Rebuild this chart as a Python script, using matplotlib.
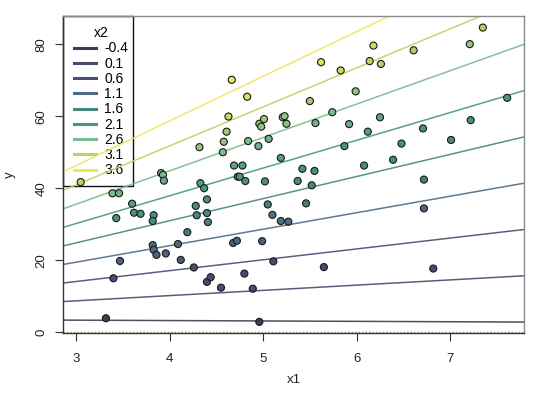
import matplotlib
matplotlib.use("Agg")
import matplotlib.pyplot as plt
import numpy as np
from matplotlib.colors import LinearSegmentedColormap
from matplotlib.lines import Line2D
from matplotlib.patches import Rectangle

plt.rcParams['font.family'] = ['Liberation Sans', 'DejaVu Sans']

# ---- data ----
x1 = [3.05, 3.32, 3.40, 3.47, 3.43, 3.39, 3.46, 3.60, 3.62, 3.69,
      3.83, 3.82, 3.82, 3.83, 3.86, 3.96, 3.91, 3.93, 3.94, 4.09,
      4.12, 4.19, 4.26, 4.28, 4.29, 4.33, 4.37, 4.40, 4.40, 4.41,
      4.40, 4.44, 4.55, 4.32, 4.57, 4.58, 4.61, 4.63, 4.665, 4.83,
      4.69, 4.78, 4.73, 4.75, 4.81, 4.68, 4.72, 4.80, 4.89, 4.96,
      4.84, 4.95, 5.06, 4.96, 5.01, 4.98, 5.21, 5.23, 5.25, 5.02,
      5.05, 5.10, 5.19, 5.27, 4.99, 5.11, 5.19, 5.37, 5.42, 5.55,
      5.52, 5.46, 5.50, 5.56, 5.62, 5.83, 5.74, 5.99, 5.92, 5.87,
      6.08, 6.12, 6.18, 6.14, 6.26, 6.25, 6.39, 6.48, 6.61, 6.71,
      6.72, 6.72, 7.01, 7.22, 7.21, 7.35, 7.61, 5.65, 6.82]
y = [41.7, 3.9, 15.0, 19.8, 31.7, 38.6, 38.6, 35.7, 33.2, 32.9,
     32.5, 30.9, 24.2, 22.9, 21.5, 21.9, 44.2, 43.7, 42.1, 24.5,
     20.1, 27.8, 18.0, 35.1, 32.5, 41.4, 40.0, 36.9, 33.1, 30.6,
     14.0, 15.3, 12.4, 51.4, 50.0, 52.9, 55.7, 59.9, 70.1, 65.4,
     46.3, 46.3, 43.2, 43.2, 42.0, 24.8, 25.4, 16.3, 12.1, 2.9,
     53.1, 51.7, 53.7, 57.9, 59.2, 57.1, 59.7, 60.0, 57.9, 41.9,
     35.5, 32.6, 30.9, 30.7, 25.3, 19.7, 48.4, 42.0, 45.4, 44.8,
     40.8, 35.8, 64.2, 58.1, 75.0, 72.7, 61.1, 66.9, 57.8, 51.7,
     46.3, 55.7, 79.6, 75.3, 74.5, 59.7, 47.9, 52.4, 78.3, 56.6,
     42.4, 34.4, 53.4, 58.9, 80.0, 84.6, 65.1, 18.1, 17.7]
x2 = [3.1, -0.4, 0.6, 1.0, 2.0, 2.6, 2.5, 2.2, 2.0, 1.9,
      1.8, 1.7, 1.2, 1.1, 1.0, 1.0, 2.6, 2.6, 2.4, 1.1,
      0.8, 1.3, 0.6, 1.8, 1.6, 2.2, 2.1, 1.8, 1.6, 1.4,
      0.3, 0.4, 0.2, 2.8, 2.6, 2.8, 2.9, 3.2, 3.8, 3.4,
      2.3, 2.2, 2.1, 2.1, 2.0, 1.0, 1.0, 0.4, 0.1, -0.4,
      2.6, 2.5, 2.5, 2.8, 2.9, 2.8, 2.8, 2.8, 2.7, 1.9,
      1.5, 1.3, 1.2, 1.1, 0.9, 0.6, 2.2, 1.7, 1.9, 1.8,
      1.6, 1.4, 2.9, 2.5, 3.4, 3.2, 2.6, 2.8, 2.4, 2.1,
      1.7, 2.2, 3.3, 3.1, 3.0, 2.3, 1.7, 1.9, 3.0, 2.0,
      1.4, 1.0, 1.8, 1.9, 2.8, 3.0, 2.1, 0.4, 0.3]

# fitted model y ~ x1 * x2 (coefficients)
b_intercept = 4.24
b_x1 = 1.14
b_x2 = 1.35
b_x1x2 = 3.126

legend_values = [-0.4, 0.1, 0.6, 1.1, 1.6, 2.1, 2.6, 3.1, 3.6]
legend_labels = ["-0.4", "0.1", "0.6", "1.1", "1.6", "2.1", "2.6", "3.1", "3.6"]
legend_colors = ["#3d3c52", "#4a496e", "#464f70", "#4f6a82", "#468782",
                 "#489682", "#78bb8c", "#bdd262", "#efe55a"]

x_ticks = [3, 4, 5, 6, 7]
y_ticks = [0, 20, 40, 60, 80]

# ---- figure ----
W, H = 540, 398
fig = plt.figure(figsize=(W / 100, H / 100), dpi=100)
ax_w, ax_h = 524 - 63.3, 333.3 - 15.7
ax = fig.add_axes([63.3 / W, 64.7 / H, ax_w / W, ax_h / H])
ax.set_xlim(2.864, 7.79)
ax.set_ylim(-0.28, 87.9)

cmap = LinearSegmentedColormap.from_list(
    "pal", list(zip([(v - legend_values[0]) / (legend_values[-1] - legend_values[0])
                     for v in legend_values], legend_colors)))

ax.axhline(0, color="#9a9a9a", ls=(0, (1, 1.5)), lw=1.0, zorder=1)

xs = np.array(ax.get_xlim())
for v, c in zip(legend_values, legend_colors):
    yy = b_intercept + b_x1 * xs + v * (b_x2 + b_x1x2 * xs)
    ax.plot(xs, yy, color=c, lw=1.1, alpha=0.9, zorder=2, solid_capstyle="butt")

norm = plt.Normalize(legend_values[0], legend_values[-1])
ax.scatter(x1, y, c=x2, cmap=cmap, norm=norm, s=26, edgecolors="#1a1a1a",
           linewidths=0.8, zorder=3)

ax.set_xticks(x_ticks)
ax.set_yticks(y_ticks)
ax.set_yticklabels([str(t) for t in y_ticks], rotation=90, va="center")
ax.tick_params(axis="both", length=5.8, width=0.8, color="#333333",
               labelsize=9.5, labelcolor="#222222")
ax.tick_params(axis="x", pad=8.5)
ax.tick_params(axis="y", pad=5.5)
for s in ["top", "right"]:
    ax.spines[s].set_color("#8a8a8a")
for s in ["left", "bottom"]:
    ax.spines[s].set_color("#333333")
for s in ax.spines.values():
    s.set_linewidth(1.0)

ax.set_xlabel("x1", fontsize=9.5, color="#222222")
ax.set_ylabel("y", fontsize=9.5, color="#222222")
ax.xaxis.set_label_coords(0.5, -(380 - 333.3) / ax_h)
ax.xaxis.label.set_va("center")
ax.yaxis.set_label_coords(-(63.3 - 10) / ax_w, 0.5)
ax.yaxis.label.set_va("center")

handles = [Line2D([0], [0], color=c, lw=2.2) for c in legend_colors]
leg = ax.legend(handles, legend_labels, title="x2", loc="upper left",
                bbox_to_anchor=(0, 1), borderaxespad=0, frameon=False,
                fontsize=10, title_fontsize=10,
                handlelength=1.6, handletextpad=0.6, labelspacing=0.09,
                borderpad=0.75)
leg.set_zorder(1.5)

ax.add_patch(Rectangle((0, (333.3 - 186) / ax_h), (133 - 63.3) / ax_w,
                       1 - (333.3 - 186) / ax_h, transform=ax.transAxes,
                       fill=False, edgecolor="#111111", lw=1.0, zorder=1.6,
                       clip_on=False))

fig.savefig("out.png", dpi=100)
